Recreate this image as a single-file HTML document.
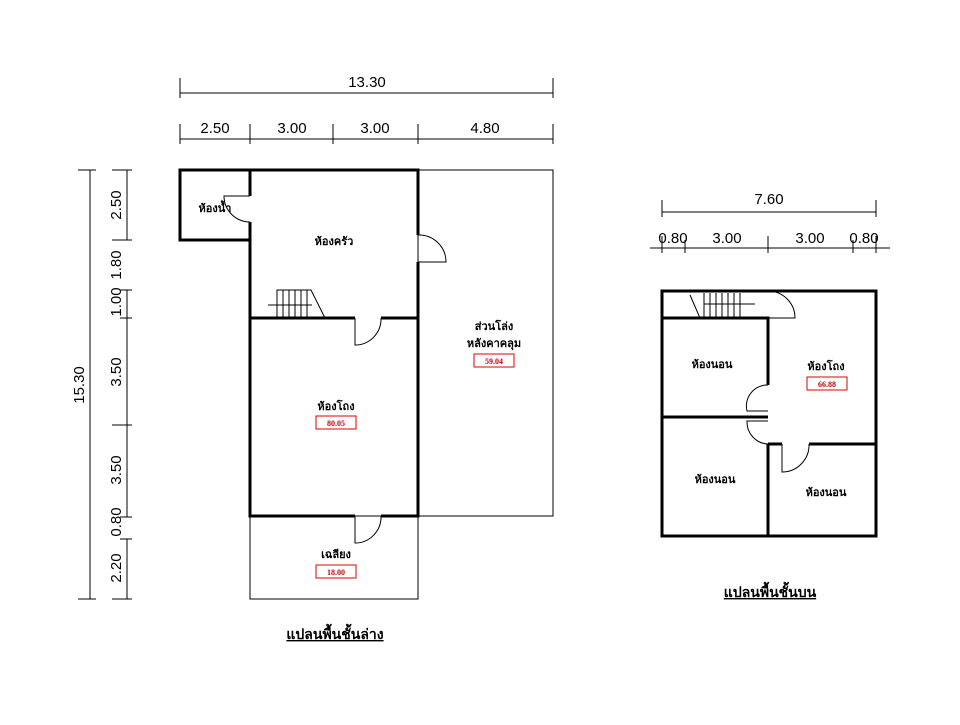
<!DOCTYPE html>
<html><head><meta charset="utf-8"><style>
html,body{margin:0;padding:0;background:#fff}
svg text{font-family:"Liberation Serif","Noto Serif CJK SC",serif}
.d text{font-family:"Liberation Sans",sans-serif;font-size:15px}
.t{font-size:11px;font-weight:bold;font-family:"Noto Sans CJK SC","Liberation Serif",sans-serif}
.r{font-size:8px;font-weight:bold;fill:#c00}
</style></head><body>
<svg width="960" height="720" viewBox="0 0 960 720" xmlns="http://www.w3.org/2000/svg">
<g stroke="#000" fill="none">
<g stroke-width="1">
<line x1="180" y1="93" x2="553" y2="93"/>
<line x1="180" y1="78" x2="180" y2="98"/><line x1="553" y1="78" x2="553" y2="98"/>
<line x1="180" y1="139" x2="553" y2="139"/>
<line x1="180" y1="124" x2="180" y2="144"/><line x1="250" y1="124" x2="250" y2="144"/><line x1="333" y1="124" x2="333" y2="144"/><line x1="418" y1="124" x2="418" y2="144"/><line x1="553" y1="124" x2="553" y2="144"/>
<line x1="90" y1="170" x2="90" y2="599"/>
<line x1="78" y1="170" x2="96" y2="170"/><line x1="78" y1="599" x2="96" y2="599"/>
<line x1="127" y1="170" x2="127" y2="240"/><line x1="127" y1="290" x2="127" y2="318"/><line x1="127" y1="318" x2="127" y2="425"/><line x1="127" y1="425" x2="127" y2="517"/><line x1="127" y1="539" x2="127" y2="599"/>
<line x1="112" y1="170" x2="132" y2="170"/><line x1="112" y1="240" x2="132" y2="240"/><line x1="120" y1="290" x2="132" y2="290"/><line x1="120" y1="318" x2="132" y2="318"/><line x1="112" y1="425" x2="132" y2="425"/><line x1="120" y1="517" x2="132" y2="517"/><line x1="120" y1="539" x2="132" y2="539"/><line x1="112" y1="599" x2="132" y2="599"/>
<line x1="662" y1="212" x2="876" y2="212"/>
<line x1="662" y1="200" x2="662" y2="217"/><line x1="876" y1="200" x2="876" y2="217"/>
<line x1="650" y1="248" x2="890" y2="248"/>
<line x1="662" y1="236" x2="662" y2="253"/><line x1="685" y1="240" x2="685" y2="253"/><line x1="768" y1="236" x2="768" y2="253"/><line x1="853" y1="240" x2="853" y2="253"/><line x1="876" y1="236" x2="876" y2="253"/>
</g>
<rect x="418" y="170" width="135" height="346" stroke-width="1"/>
<rect x="250" y="516" width="168" height="83" stroke-width="1"/>
<g stroke-width="3">
<path d="M250 196 V170 H418 V235 M418 262 V516 H381 M355 516 H250 V318 H355 M381 318 H418"/>
<path d="M250 222 V318 M250 240 H180 V170 H250"/>
</g>
<g stroke-width="1">
<path d="M250 196 H224 A26 26 0 0 0 250 222"/>
<path d="M418 235 A27 27 0 0 1 446 262 H418"/>
<path d="M355 318 V345 A26 26 0 0 0 381 318"/>
<path d="M355 516 V543 A26 26 0 0 0 381 516"/>
<path d="M277 318 V290 H311 L325 318"/>
<path d="M283 290V318M289 290V318M295 290V318M301 290V318M307 290V318"/>
<path d="M268 305 H312"/>
</g>
<g stroke-width="3">
<rect x="662" y="291" width="214" height="245"/>
<path d="M662 318 H768 V385 M768 444 V536 M662 417 H768 M768 444 H782 M809 444 H876"/>
</g>
<g stroke-width="1">
<path d="M768 291 A27 27 0 0 1 795 318 H768"/>
<path d="M768 385 A21 21 0 0 0 747 411 H768 M768 421 H747 A22 22 0 0 0 768 444"/>
<path d="M782 444 V472 A27 27 0 0 0 809 444"/>
<path d="M700 318 L690 295 M704 318V293M710 318V293M716 318V293M722 318V293M728 318V293M734 318V293M740 318V293 M704 304 H755"/>
</g>
<g stroke="#d00" stroke-width="1">
<rect x="474" y="354" width="40" height="13"/>
<rect x="316" y="416" width="40" height="13"/>
<rect x="316" y="565" width="40" height="13"/>
<rect x="807" y="377" width="40" height="13"/>
</g>
</g>
<g class="d" text-anchor="middle">
<text x="367" y="87">13.30</text>
<text x="215" y="133">2.50</text><text x="292" y="133">3.00</text><text x="375" y="133">3.00</text><text x="485" y="133">4.80</text>
<text x="769" y="204">7.60</text>
<text x="673" y="243">0.80</text><text x="727" y="243">3.00</text><text x="810" y="243">3.00</text><text x="864" y="243">0.80</text>
<text transform="translate(84,385) rotate(-90)">15.30</text>
<text transform="translate(121,205) rotate(-90)">2.50</text>
<text transform="translate(121,265) rotate(-90)">1.80</text>
<text transform="translate(121,302) rotate(-90)">1.00</text>
<text transform="translate(121,372) rotate(-90)">3.50</text>
<text transform="translate(121,470) rotate(-90)">3.50</text>
<text transform="translate(121,522) rotate(-90)">0.80</text>
<text transform="translate(121,568) rotate(-90)">2.20</text>
</g>
<g text-anchor="middle">
<text class="t" x="215" y="212">ห้องน้ำ</text>
<text class="t" x="334" y="245">ห้องครัว</text>
<text class="t" x="494" y="330">ส่วนโล่ง</text>
<text class="t" x="494" y="347">หลังคาคลุม</text>
<text class="r" x="494" y="364">59.04</text>
<text class="t" x="336" y="410">ห้องโถง</text>
<text class="r" x="336" y="426">80.05</text>
<text class="t" x="336" y="558">เฉลียง</text>
<text class="r" x="336" y="575">18.00</text>
<text class="t" x="712" y="368">ห้องนอน</text>
<text class="t" x="826" y="370">ห้องโถง</text>
<text class="r" x="827" y="387">66.88</text>
<text class="t" x="715" y="483">ห้องนอน</text>
<text class="t" x="826" y="496">ห้องนอน</text>
<text class="t" x="335" y="639" style="font-size:14px;text-decoration:underline">แปลนพื้นชั้นล่าง</text>
<text class="t" x="770" y="597" style="font-size:14px;text-decoration:underline">แปลนพื้นชั้นบน</text>
</g>
</svg>
</body></html>
